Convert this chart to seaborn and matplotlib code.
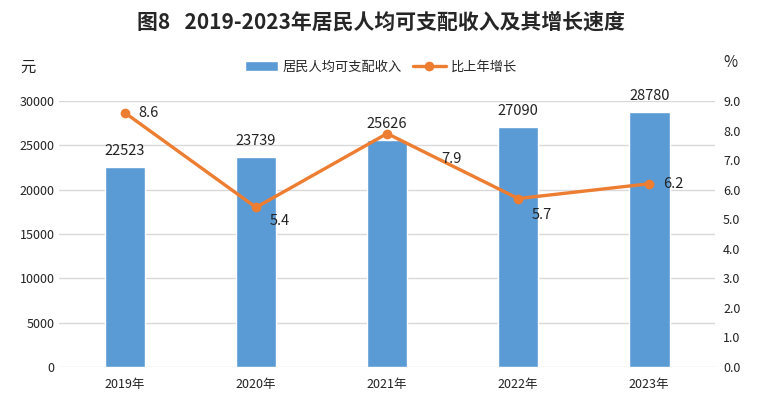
import pandas as pd
import seaborn as sns
import numpy as np
import matplotlib.pyplot as plt

anios = ['2019年', '2020年', '2021年', '2022年', '2023年']
ingreso = [22523, 23739, 25626, 27090, 28780]
crecimiento = [8.6, 5.4, 7.9, 5.7, 6.2]

datos = pd.DataFrame({'anio': anios, 'ingreso': ingreso, 'crecimiento': crecimiento})

sns.set_style('white')
plt.rcParams['font.family'] = ['Noto Sans CJK SC', 'DejaVu Sans']

azul = '#5B9BD5'
naranja = '#ED7D31'

fig = plt.figure(figsize=(7.62, 4.09), dpi=100)
ax = fig.add_axes([0.078, 0.1027, 0.86, 0.6503])

# Barras del ingreso
sns.barplot(x='anio', y='ingreso', data=datos, color=azul, width=0.31,
            saturation=1, ax=ax, label='居民人均可支配收入', zorder=2)
if ax.get_legend() is not None:
    ax.get_legend().remove()
ax.set_ylim(0, 30000)
ax.set_yticks(np.arange(0, 30001, 5000))
ax.yaxis.grid(True, color='#D9D9D9', linewidth=1, zorder=0)
ax.set_axisbelow(True)
for s in ax.spines.values():
    s.set_visible(False)
ax.tick_params(axis='both', length=0, labelsize=9, colors='#222222')
ax.tick_params(axis='x', pad=8)
ax.set_xlabel('')
ax.set_ylabel('')
for i, v in enumerate(ingreso):
    ax.text(i, v + 1000, str(v), ha='center', va='bottom', fontsize=10.5, color='#222222')

# Línea de crecimiento
ax2 = ax.twinx()
sns.lineplot(x=np.arange(len(anios)), y=crecimiento, ax=ax2, color=naranja,
             linewidth=2.4, marker='o', markersize=7, markeredgewidth=0,
             label='比上年增长', legend=False)
ax2.set_ylim(0, 9)
ax2.set_yticks(np.arange(0, 9.01, 1))
ax2.set_yticklabels([f'{t:.1f}' for t in np.arange(0, 9.01, 1)])
for s in ax2.spines.values():
    s.set_visible(False)
ax2.tick_params(axis='y', length=0, labelsize=9, colors='#222222', pad=6)
ax2.grid(False)
ax2.set_ylabel('')

# Etiquetas de la línea (desplazamiento en puntos)
desp = [(10, 0), (10, -10), (39, -18), (10, -12), (10, 0)]
for i, v in enumerate(crecimiento):
    ax2.annotate(f'{v}', (i, v), xytext=desp[i], textcoords='offset points',
                 ha='left', va='center', fontsize=10.5, color='#222222')

ax.set_xlim(-0.5, 4.5)

# Leyenda
h1, l1 = ax.get_legend_handles_labels()
h2, l2 = ax2.get_legend_handles_labels()
fig.legend(h1 + h2, l1 + l2, loc='center', bbox_to_anchor=(0.5, 0.836), ncol=2,
           frameon=False, fontsize=9.5, handlelength=2.5, columnspacing=0.8,
           handletextpad=0.4)

fig.text(0.037, 0.836, '元', ha='center', va='center', fontsize=11)
fig.text(0.958, 0.848, '%', ha='center', va='center', fontsize=11)
fig.suptitle('图8   2019-2023年居民人均可支配收入及其增长速度', x=0.5, y=0.945,
             fontsize=15, fontweight='bold', va='center')

plt.savefig('out.png', dpi=100)
plt.close()
